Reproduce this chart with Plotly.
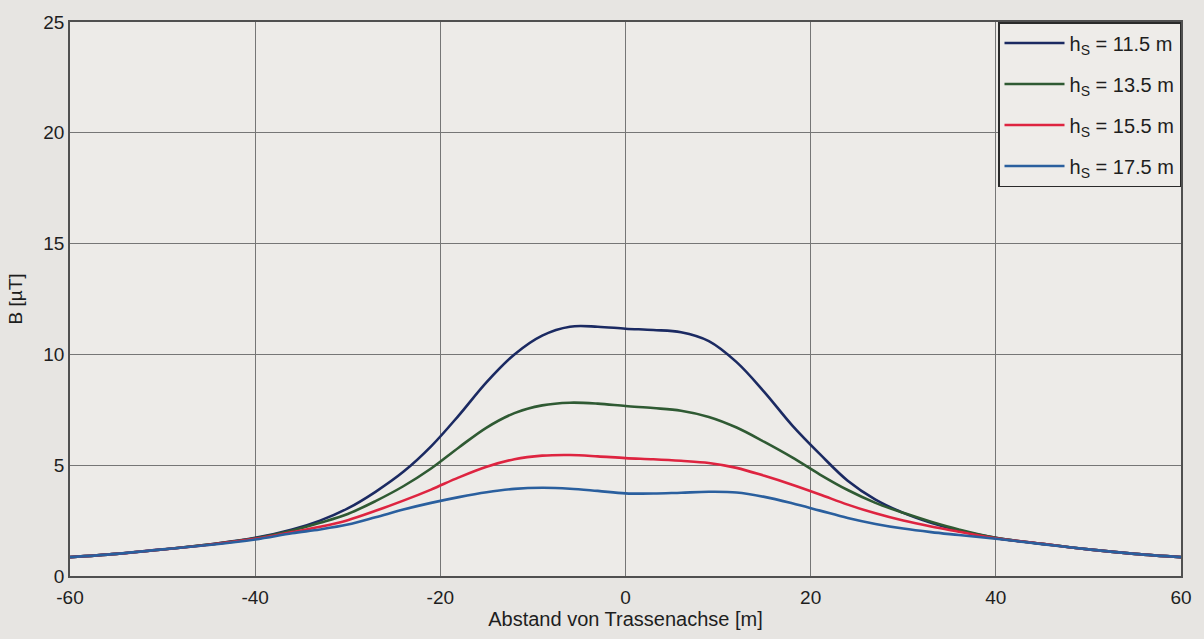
import plotly.graph_objects as go

# Distance from the line axis [m]
abstand = [-60, -55, -50, -45, -40, -36, -33, -30, -27, -24, -21, -18, -15, -12, -9, -6, -3,
           0, 3, 6, 9, 12, 15, 18, 21, 24, 27, 30, 33, 36, 40, 45, 50, 55, 60]

# Magnetic flux density B [µT] for each conductor height h_S
b_115 = [0.85, 1.0, 1.2, 1.42, 1.72, 2.1, 2.5, 3.05, 3.8, 4.7, 5.85, 7.25, 8.75, 10.0, 10.85, 11.25, 11.25,
         11.16, 11.1, 11.0, 10.6, 9.65, 8.3, 6.8, 5.5, 4.3, 3.45, 2.85, 2.4, 2.05, 1.72, 1.45, 1.2, 1.0, 0.85]
b_135 = [0.85, 1.0, 1.2, 1.42, 1.7, 2.05, 2.4, 2.8, 3.38, 4.05, 4.85, 5.8, 6.7, 7.35, 7.7, 7.82, 7.78,
         7.67, 7.58, 7.46, 7.18, 6.7, 6.05, 5.35, 4.58, 3.88, 3.3, 2.85, 2.45, 2.1, 1.72, 1.45, 1.2, 1.0, 0.85]
b_155 = [0.85, 1.0, 1.2, 1.41, 1.68, 1.98, 2.22, 2.52, 2.94, 3.4, 3.9, 4.45, 4.93, 5.27, 5.43, 5.46, 5.4,
         5.32, 5.27, 5.2, 5.1, 4.88, 4.52, 4.12, 3.68, 3.22, 2.83, 2.5, 2.23, 2.0, 1.7, 1.45, 1.2, 1.0, 0.85]
b_175 = [0.85, 1.0, 1.2, 1.4, 1.65, 1.93, 2.1, 2.32, 2.65, 3.0, 3.3, 3.56, 3.78, 3.93, 3.98, 3.94, 3.84,
         3.73, 3.72, 3.76, 3.8, 3.77, 3.57, 3.28, 2.95, 2.62, 2.35, 2.14, 1.98, 1.85, 1.68, 1.44, 1.2, 1.0, 0.85]

labels = ["h<sub>S</sub> = 11.5 m", "h<sub>S</sub> = 13.5 m",
          "h<sub>S</sub> = 15.5 m", "h<sub>S</sub> = 17.5 m"]
colors = ["#1b2a62", "#2f5a33", "#de2440", "#2a5f9e"]

x_ticks = [-60, -40, -20, 0, 20, 40, 60]
y_ticks = [0, 5, 10, 15, 20, 25]

fig = go.Figure()
for i, (vals, name, col) in enumerate(zip([b_115, b_135, b_155, b_175], labels, colors)):
    fig.add_trace(go.Scatter(
        x=abstand, y=vals, name=name, mode="lines",
        line=dict(color=col, width=2.6, shape="spline", smoothing=1.0),
        legendgroup=f"g{i}",
    ))

font_family = "Liberation Sans, Arial, sans-serif"

fig.update_layout(
    width=1204, height=639,
    margin=dict(l=70, r=18, t=22, b=63),
    paper_bgcolor="#e7e5e2",
    plot_bgcolor="#edebe8",
    font=dict(family=font_family, size=19, color="#1e1e1e"),
    showlegend=True,
    legend=dict(
        x=1, y=1, xanchor="right", yanchor="top",
        bgcolor="#eeece9", bordercolor="#2a2a2a", borderwidth=1.5,
        font=dict(size=20, color="#1e1e1e"),
        tracegroupgap=12,
        itemwidth=60,
    ),
    xaxis=dict(
        range=[-60, 60], tickvals=x_ticks, ticktext=[str(v) for v in x_ticks],
        showgrid=True, gridcolor="#767676", gridwidth=1,
        showline=True, linecolor="#505050", linewidth=1.5, mirror=True,
        zeroline=False, ticks="", ticklen=0, ticklabelstandoff=3,
        title=dict(text="Abstand von Trassenachse [m]", font=dict(size=20), standoff=4),
        tickfont=dict(size=19),
    ),
    yaxis=dict(
        range=[0, 25], tickvals=y_ticks, ticktext=[str(v) for v in y_ticks],
        showgrid=True, gridcolor="#767676", gridwidth=1,
        showline=True, linecolor="#505050", linewidth=1.5, mirror=True,
        zeroline=False, ticks="", ticklen=0,
        title=dict(text="B [µT]", font=dict(size=19), standoff=16),
        tickfont=dict(size=19),
    ),
)

fig.write_html("out.html")
